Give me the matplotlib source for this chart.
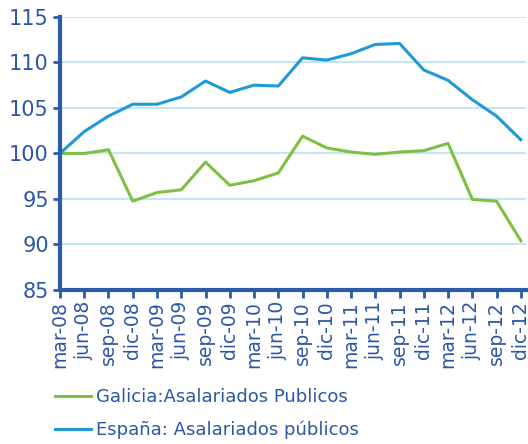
import matplotlib
matplotlib.use("Agg")
import matplotlib.pyplot as plt

periods = ["mar-08", "jun-08", "sep-08", "dic-08", "mar-09", "jun-09", "sep-09", "dic-09",
           "mar-10", "jun-10", "sep-10", "dic-10", "mar-11", "jun-11", "sep-11", "dic-11",
           "mar-12", "jun-12", "sep-12", "dic-12"]

galicia = [100.0, 100.0, 100.4, 94.75, 95.7, 96.0, 99.05, 96.5, 97.0, 97.85,
           101.9, 100.6, 100.15, 99.9, 100.15, 100.3, 101.1, 94.95, 94.75, 90.4]

espana = [100.0, 102.4, 104.1, 105.4, 105.4, 106.2, 107.95, 106.7, 107.5, 107.4,
          110.5, 110.25, 110.95, 111.97, 112.08, 109.16, 108.03, 105.9, 104.1, 101.5]

y_ticks = [85, 90, 95, 100, 105, 110, 115]

text_color = "#2b57a5"
axis_color = "#2a5caa"
grid_color = "#b5e2f4"

fig = plt.figure(figsize=(5.28, 4.44), dpi=100)
ax = fig.add_axes([0.1136, 0.347, 0.882, 0.615])

x = list(range(len(periods)))
ax.plot(x, galicia, color="#7dc142", lw=2.2, label="Galicia:Asalariados Publicos")
ax.plot(x, espana, color="#1f9ad6", lw=2.2, label="España: Asalariados públicos")

ax.set_xlim(0, len(periods) - 1 + 0.2)
ax.set_ylim(85, 115)
ax.set_yticks(y_ticks)
ax.set_xticks(x)
ax.set_xticklabels(periods, rotation=90, fontsize=13.5, color=text_color)
ax.tick_params(axis="y", labelsize=15, labelcolor=text_color, color=axis_color,
               length=5, width=2, pad=3)
ax.tick_params(axis="x", color=axis_color, length=6, width=2, pad=2)

ax.yaxis.grid(True, color=grid_color, lw=1.2)
ax.set_axisbelow(True)
for side in ["top", "right"]:
    ax.spines[side].set_visible(False)
for side in ["left", "bottom"]:
    ax.spines[side].set_color(axis_color)
    ax.spines[side].set_linewidth(3)

leg = fig.legend(loc="upper left", bbox_to_anchor=(0.074, 0.163), frameon=False,
                 fontsize=13, handlelength=2.0, handletextpad=0.25, labelspacing=0.8)
for t in leg.get_texts():
    t.set_color(text_color)

fig.savefig("out.png", dpi=100)
